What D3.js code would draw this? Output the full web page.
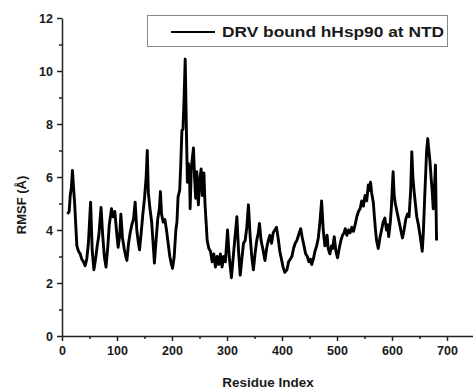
<!DOCTYPE html>
<html>
<head>
<meta charset="utf-8">
<script src="https://cdn.jsdelivr.net/npm/d3@7"></script>
<style>
  body { margin: 0; background: #fff; }
  svg text { font-family: "Liberation Sans", Arial, sans-serif; font-weight: bold; fill: #1a1a1a; }
</style>
</head>
<body>
<script>
// residue index and RMSF (Å)
const residues = [10,13,15,17,19,21,23,25,27,30,33,36,39,42,45,48,52,55,58,61,64,67,71,74,77,80,83,86,90,93,96,99,102,105,107,110,113,116,118,121,124,127,130,133,136,139,141,144,147,150,153,155,157,160,163,166,168,171,174,177,179,181,184,187,190,193,196,199,201,204,207,209,211,214,216,218,220,222,224,226,228,230,232,233,235,237,239,241,243,245,248,250,253,255,258,260,262,264,267,270,273,276,279,282,285,288,291,294,297,301,304,308,311,314,318,321,324,327,330,333,336,339,342,345,348,351,354,357,359,362,365,369,372,375,378,381,384,387,390,393,396,399,402,405,409,412,415,418,421,424,427,430,434,437,440,443,446,449,452,454,457,460,463,466,469,472,475,478,480,482,484,487,490,492,495,498,501,504,507,510,513,515,518,521,524,527,530,533,536,539,542,545,548,551,554,557,559,561,563,566,568,570,572,575,578,581,584,587,590,592,594,597,599,602,604,606,608,610,613,616,619,622,625,628,631,634,636,638,640,642,645,648,651,653,655,657,659,661,663,665,667,669,671,673,675,677,679,681];
const rmsf = [4.6,4.7,5.3,5.6,6.25,5.6,5.0,4.2,3.4,3.2,3.1,2.9,2.8,2.65,2.9,3.5,5.05,3.2,2.5,2.9,3.4,3.8,4.85,3.8,3.0,2.6,3.3,4.2,4.8,4.5,4.7,4.0,3.35,3.8,4.6,3.7,3.3,3.0,2.85,3.5,3.9,4.2,4.4,5.05,4.0,3.5,3.25,3.9,4.6,5.2,6.0,7.0,5.4,4.8,4.3,3.4,2.75,3.6,4.4,4.8,5.45,4.6,4.3,4.4,4.0,3.5,3.0,2.7,2.55,3.0,4.0,4.3,5.25,5.5,6.5,7.75,7.8,9.0,10.45,8.0,5.8,6.5,6.0,4.8,6.3,6.7,7.1,6.0,5.2,6.2,4.95,5.8,6.3,5.3,6.15,5.0,4.3,3.6,3.3,3.2,2.8,3.1,2.6,3.0,2.7,3.1,2.6,3.0,2.8,4.0,3.0,2.2,2.9,3.6,4.5,3.2,2.3,2.9,3.5,3.6,4.1,4.95,3.8,3.0,2.5,3.1,3.6,3.9,4.25,3.6,3.3,2.85,3.3,3.6,3.8,3.5,3.9,4.0,4.1,3.7,3.2,2.9,2.6,2.4,2.5,2.8,2.9,3.0,3.3,3.5,3.6,3.8,4.05,3.7,3.4,3.1,3.0,2.8,2.9,2.7,2.9,3.2,3.4,3.7,4.3,5.1,4.0,3.4,3.5,3.8,3.3,3.1,3.4,3.3,3.75,3.2,2.95,3.3,3.6,3.8,3.9,4.05,3.8,4.0,3.9,4.1,3.95,4.2,4.5,4.7,4.8,5.1,4.9,5.3,5.1,5.7,5.5,5.8,5.4,5.05,4.5,4.0,3.6,3.3,3.7,4.0,4.3,4.45,4.0,4.2,3.75,4.3,4.9,6.2,5.3,5.0,4.8,4.6,4.3,4.0,3.7,4.0,4.4,4.6,4.5,5.5,6.95,6.0,5.5,5.1,4.5,4.2,3.8,3.5,3.2,3.9,5.0,6.0,7.0,7.45,7.0,6.6,6.0,5.5,4.8,5.5,6.45,3.6];

const xTicks = [0,100,200,300,400,500,600,700];
const yTicks = [0,2,4,6,8,10,12];
const seriesName = "DRV bound hHsp90 at NTD";

const width = 473, height = 391;
const data = residues.map((r, i) => ({ r, v: rmsf[i] }));

const svg = d3.select("body").append("svg")
  .attr("width", width)
  .attr("height", height);

const x = d3.scaleLinear().domain([0, 750]).range([62, 474.5]);
const y = d3.scaleLinear().domain([0, 12]).range([336, 18]);

// minor ticks first, then labelled major ticks
svg.append("g")
  .attr("transform", "translate(0,336)")
  .call(d3.axisBottom(x).tickValues(d3.range(50, 750, 100)).tickSize(3).tickFormat(""))
  .call(g => g.select(".domain").remove());
svg.append("g")
  .attr("transform", "translate(62,0)")
  .call(d3.axisLeft(y).tickValues(d3.range(1, 12, 2)).tickSize(3).tickFormat(""))
  .call(g => g.select(".domain").remove());

const xAxis = svg.append("g")
  .attr("transform", "translate(0,336)")
  .call(d3.axisBottom(x).tickValues(xTicks).tickSize(5).tickSizeOuter(0).tickPadding(5));
const yAxis = svg.append("g")
  .attr("transform", "translate(62,0)")
  .call(d3.axisLeft(y).tickValues(yTicks).tickSize(5).tickSizeOuter(0).tickPadding(4));

svg.selectAll(".domain, .tick line").attr("stroke", "#222").attr("stroke-width", 1.5);
xAxis.selectAll("text").style("font-size", "12.5px");
yAxis.selectAll("text").style("font-size", "12.5px");

svg.append("path")
  .datum(data)
  .attr("fill", "none")
  .attr("stroke", "#000")
  .attr("stroke-width", 2.9)
  .attr("stroke-linejoin", "round")
  .attr("d", d3.line().x(d => x(d.r)).y(d => y(d.v)));

// axis titles
svg.append("text")
  .attr("x", 268).attr("y", 387)
  .attr("text-anchor", "middle")
  .style("font-size", "13.5px")
  .text("Residue Index");
svg.append("text")
  .attr("transform", "translate(26,205) rotate(-90)")
  .attr("text-anchor", "middle")
  .style("font-size", "13px")
  .text("RMSF (Å)");

// legend
const legend = svg.append("g");
legend.append("rect")
  .attr("x", 147.5).attr("y", 15.5)
  .attr("width", 300).attr("height", 31)
  .attr("fill", "#fff")
  .attr("stroke", "#888");
legend.append("line")
  .attr("x1", 171).attr("x2", 215)
  .attr("y1", 32).attr("y2", 32)
  .attr("stroke", "#000").attr("stroke-width", 2);
legend.append("text")
  .attr("x", 222).attr("y", 37)
  .attr("textLength", 222)
  .attr("lengthAdjust", "spacingAndGlyphs")
  .style("font-size", "14px")
  .text(seriesName);
</script>
</body>
</html>
